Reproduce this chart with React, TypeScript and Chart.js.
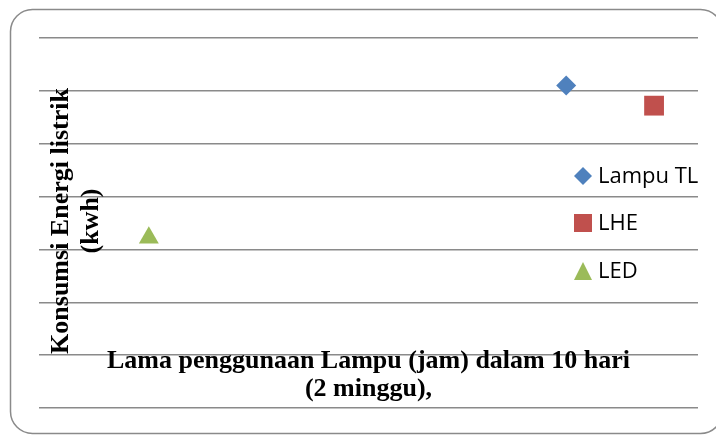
import React, { useEffect, useRef } from "react";
import { Chart, registerables } from "chart.js";

Chart.register(...registerables);

const seriesNames = ["Lampu TL", "LHE", "LED"];
const seriesColors = ["#4F81BD", "#C0504D", "#9BBB59"];
const seriesStyles = ["rectRot", "rect", "triangle"];
const seriesRadius = [10, 14, 11.5];
const tlPoints = [{ x: 9.6, y: 6.1 }];
const lhePoints = [{ x: 11.2, y: 5.72 }];
const ledPoints = [{ x: 2.0, y: 3.22 }];
const yTitleLines = ["Konsumsi Energi listrik", "(kwh)"];
const xTitleLines = ["Lama penggunaan Lampu (jam) dalam 10 hari", "(2 minggu),"];

const W = 716;
const H = 435;

function roundRect(ctx: CanvasRenderingContext2D, x: number, y: number, w: number, h: number, r: number) {
  ctx.beginPath();
  ctx.moveTo(x + r, y);
  ctx.lineTo(x + w - r, y);
  ctx.arcTo(x + w, y, x + w, y + r, r);
  ctx.lineTo(x + w, y + h - r);
  ctx.arcTo(x + w, y + h, x + w - r, y + h, r);
  ctx.lineTo(x + r, y + h);
  ctx.arcTo(x, y + h, x, y + h - r, r);
  ctx.lineTo(x, y + r);
  ctx.arcTo(x, y, x + r, y, r);
  ctx.closePath();
}

const decorPlugin = {
  id: "decor",
  beforeDraw(chart: any) {
    const ctx = chart.ctx as CanvasRenderingContext2D;
    ctx.save();
    ctx.fillStyle = "#ffffff";
    ctx.fillRect(0, 0, W, H);
    ctx.strokeStyle = "#8a8a8a";
    ctx.lineWidth = 1.5;
    roundRect(ctx, 10.5, 9.5, 712, 424, 22);
    ctx.stroke();
    ctx.restore();
  },
  afterDraw(chart: any) {
    const ctx = chart.ctx as CanvasRenderingContext2D;
    const area = chart.chartArea;
    ctx.save();
    ctx.fillStyle = "#000000";
    ctx.font = 'bold 26px "Liberation Serif", "Times New Roman", serif';
    ctx.textAlign = "center";
    ctx.textBaseline = "alphabetic";
    // Y title (rotated)
    ctx.save();
    ctx.translate(0, 221);
    ctx.rotate(-Math.PI / 2);
    ctx.fillText(yTitleLines[0], 0, 68);
    ctx.fillText(yTitleLines[1], 0, 98);
    ctx.restore();
    // X title
    const cx = (area.left + area.right) / 2;
    ctx.fillText(xTitleLines[0], cx, 368);
    ctx.fillText(xTitleLines[1], cx, 396);

    // Legend
    const ds = chart.data.datasets;
    const ys = [176, 223, 271];
    const mx = 583;
    const s = 9;
    ctx.font = '22px "Open Sans", "Noto Sans", sans-serif';
    ctx.textAlign = "left";
    ctx.textBaseline = "middle";
    ds.forEach((d: any, i: number) => {
      const y = ys[i];
      ctx.fillStyle = d.backgroundColor;
      ctx.beginPath();
      if (d.pointStyle === "rectRot") {
        ctx.moveTo(mx, y - s);
        ctx.lineTo(mx + s, y);
        ctx.lineTo(mx, y + s);
        ctx.lineTo(mx - s, y);
      } else if (d.pointStyle === "rect") {
        ctx.rect(mx - s, y - s, 2 * s, 2 * s);
      } else {
        ctx.moveTo(mx, y - s);
        ctx.lineTo(mx + s, y + s);
        ctx.lineTo(mx - s, y + s);
      }
      ctx.closePath();
      ctx.fill();
      ctx.fillStyle = "#000000";
      ctx.fillText(d.label, 598, y + 1);
    });
    ctx.restore();
  },
};

export default function App() {
  const ref = useRef<HTMLCanvasElement | null>(null);
  useEffect(() => {
    if (!ref.current) return;
    const pointSets = [tlPoints, lhePoints, ledPoints];
    const chart = new Chart(ref.current, {
      type: "scatter",
      data: {
        datasets: seriesNames.map((name, i) => ({
          label: name,
          data: pointSets[i],
          backgroundColor: seriesColors[i],
          borderColor: seriesColors[i],
          pointStyle: seriesStyles[i] as any,
          pointRadius: seriesRadius[i],
          pointHoverRadius: seriesRadius[i],
          pointBorderWidth: 0,
          borderWidth: 0,
        })),
      },
      options: {
        responsive: false,
        animation: false,
        events: [],
        layout: { padding: { left: 39, top: 38, right: 18, bottom: 27 } },
        plugins: {
          legend: { display: false },
          tooltip: { enabled: false },
        },
        scales: {
          x: {
            type: "linear",
            display: false,
            min: 0,
            max: 12,
          },
          y: {
            type: "linear",
            min: 0,
            max: 7,
            ticks: { display: false, stepSize: 1 },
            grid: { color: "#8a8a8a", lineWidth: 1.5, drawTicks: false },
            border: { display: false },
          },
        },
      },
      plugins: [decorPlugin],
    });
    return () => chart.destroy();
  }, []);
  return (
    <div style={{ position: "fixed", left: 0, top: 0, width: W, height: H, background: "#fff" }}>
      <canvas ref={ref} width={W} height={H} style={{ width: W, height: H, display: "block" }} />
    </div>
  );
}
